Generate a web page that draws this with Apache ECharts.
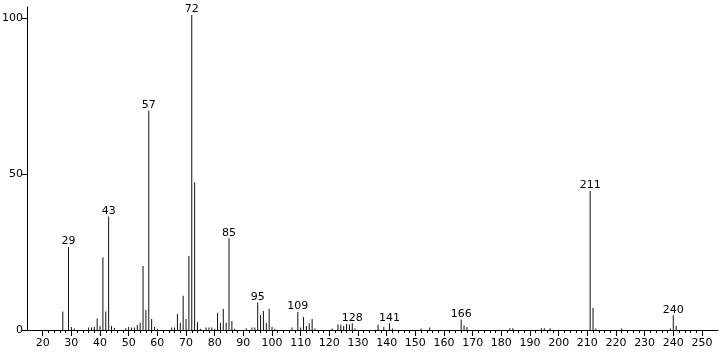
<!DOCTYPE html>
<html>
<head>
<meta charset="utf-8">
<script src="https://cdn.jsdelivr.net/npm/echarts@6/dist/echarts.min.js"></script>
<style>html,body{margin:0;padding:0;background:#fff}#c{width:720px;height:352px}</style>
</head>
<body>
<div id="c"></div>
<script>
var masses = [27,29,30,31,36,37,38,39,40,41,42,43,44,45,49,50,51,52,53,54,55,56,57,58,59,60,
  65,66,67,68,69,70,71,72,73,74,75,77,78,79,80,81,82,83,84,85,86,87,
  91,93,94,95,96,97,98,99,100,101,107,109,110,111,112,113,114,115,
  121,123,124,125,126,127,128,129,137,139,141,142,152,155,166,167,168,
  183,184,194,195,197,211,212,213,222,239,240,241];
var intensities = [5.9,26.6,1,0.5,0.8,0.8,1,3.7,1.3,23.3,5.9,36.4,1.3,0.7,0.6,1,0.8,0.8,1.6,2.3,20.5,6.4,70.4,3.5,1,0.4,
  0.8,0.8,5.1,2.3,11,3.5,23.7,101,47.4,2.5,0.4,0.8,0.8,0.8,0.4,5.5,2.3,6.7,2.3,29.4,2.9,0.4,
  0.6,0.8,0.8,8.8,4.8,6.1,2.3,6.8,1,0.4,0.8,5.8,0.8,4.2,1.3,2.2,3.5,0.5,
  0.5,1.8,1.7,1.3,1.9,1.8,2.2,0.5,1.7,1,2.2,0.5,0.5,0.8,3.4,1.5,1,
  0.6,0.6,0.6,0.6,0.6,44.7,7.1,0.5,0.5,0.5,4.7,1.4];
var labeledPeaks = [29,43,57,72,85,95,109,128,141,166,211,240];
var xTickLabels = [20,30,40,50,60,70,80,90,100,110,120,130,140,150,160,170,180,190,200,210,220,230,240,250];
var xMinorTicks = [22,24,26,28,32,34,36,38,42,44,46,48,52,54,56,58,62,64,66,68,72,74,76,78,82,84,86,88,92,94,96,98,
  102,104,106,108,112,114,116,118,122,124,126,128,132,134,136,138,142,144,146,148,152,154,156,158,
  162,164,166,168,172,174,176,178,182,184,186,188,192,194,196,198,202,204,206,208,212,214,216,218,
  222,224,226,228,232,234,236,238,242,244,246,248];
var yTickLabels = [0,50,100];

var font = 'DejaVu Sans';
var data = masses.map(function(m, i){
  var item = {value: [m, intensities[i]]};
  if (labeledPeaks.indexOf(m) >= 0) {
    item.label = {show: true, position: 'top', distance: 0, formatter: String(m),
      color: '#000', fontSize: 11, fontFamily: font};
  }
  return item;
});

var chart = echarts.init(document.getElementById('c'), null, {renderer: 'canvas'});
chart.setOption({
  animation: false,
  grid: {left: 27, right: 2, top: 7, bottom: 22, containLabel: false, outerBoundsMode: 'none'},
  xAxis: [{
    type: 'value', min: 14.52, max: 255.6,
    axisLine: {show: true, onZero: false, lineStyle: {color: '#000', width: 1}},
    axisTick: {show: true, inside: false, length: 6, customValues: xTickLabels, lineStyle: {color: '#000'}},
    axisLabel: {show: true, customValues: xTickLabels, margin: 8, color: '#000', fontSize: 11, fontFamily: font},
    splitLine: {show: false}
  }, {
    type: 'value', min: 14.52, max: 255.6, position: 'bottom',
    axisLine: {show: false},
    axisTick: {show: true, inside: false, length: 3, customValues: xMinorTicks, lineStyle: {color: '#000'}},
    axisLabel: {show: false},
    splitLine: {show: false}
  }],
  yAxis: {
    type: 'value', min: 0, max: 103.6,
    axisLine: {show: true, lineStyle: {color: '#000', width: 1}},
    axisTick: {show: true, length: 5, customValues: yTickLabels, lineStyle: {color: '#000'}},
    axisLabel: {show: true, customValues: yTickLabels, margin: 4, color: '#000', fontSize: 11, fontFamily: font},
    splitLine: {show: false}
  },
  series: [{
    type: 'bar', xAxisIndex: 0, barWidth: 1,
    itemStyle: {color: '#111'},
    data: data
  }]
});
</script>
</body>
</html>
